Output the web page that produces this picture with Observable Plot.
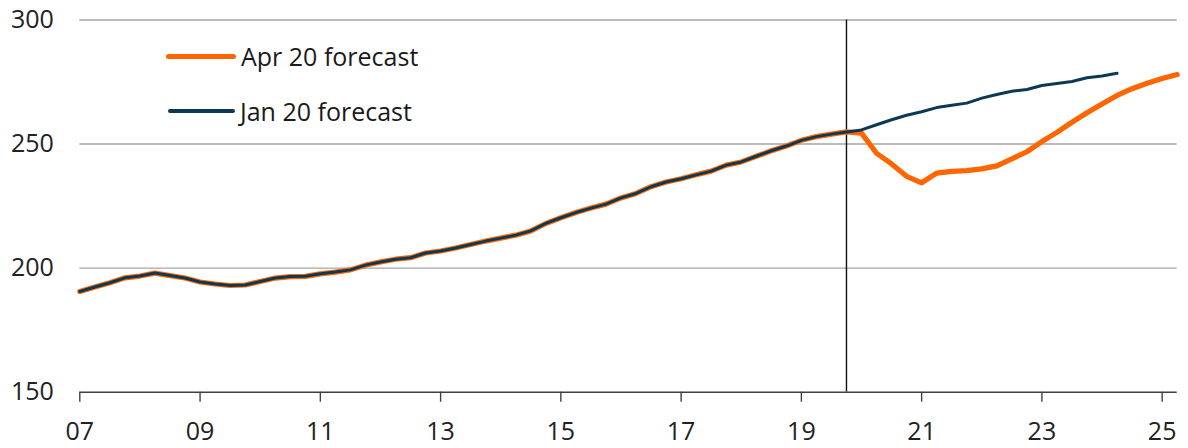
<!DOCTYPE html>
<html>
<head>
<meta charset="utf-8">
<script src="https://cdn.jsdelivr.net/npm/d3@7"></script>
<script src="https://cdn.jsdelivr.net/npm/@observablehq/plot@0.6"></script>
<style>
  html, body { margin: 0; padding: 0; background: #fff; }
  #wrap { position: relative; width: 1188px; height: 448px; font-family: "Open Sans", sans-serif; }
  .leg { position: absolute; display: flex; align-items: center; height: 25px; font-size: 25px; color: #1a1a1a; line-height: 25px; white-space: nowrap; }
  .leg .sw { display: inline-block; border-radius: 3px; margin-right: 5px; }
</style>
</head>
<body>
<div id="wrap"></div>
<script>
// Quarterly index, 2007Q1 – 2019Q4 (shared history)
const startYear = 2007;
const history = [
  190.6, 192.4, 194.1, 196.1,
  196.8, 198.0, 197.0, 196.0,
  194.4, 193.6, 193.0, 193.2,
  194.6, 196.0, 196.6, 196.7,
  197.7, 198.4, 199.3, 201.2,
  202.5, 203.6, 204.2, 206.1,
  206.9, 208.1, 209.5, 210.9,
  212.1, 213.3, 215.0, 218.0,
  220.3, 222.4, 224.2, 225.8,
  228.3, 230.1, 232.8, 234.7,
  236.0, 237.6, 239.1, 241.5,
  242.8, 245.1, 247.3, 249.2,
  251.5, 253.0, 254.0, 254.9
];
// Apr 20 forecast, 2020Q1 – 2025Q2
const aprForecast = [
  254.4, 246.3, 242.0, 237.0,
  234.4, 238.3, 239.0, 239.3,
  240.0, 241.2, 244.0, 246.9,
  251.0, 254.7, 258.8, 262.6,
  266.1, 269.6, 272.3, 274.5,
  276.4, 278.0
];
// Jan 20 forecast, 2020Q1 – 2024Q2
const janForecast = [
  255.7, 257.8, 259.8, 261.6,
  263.0, 264.7, 265.6, 266.5,
  268.5, 270.0, 271.3, 272.0,
  273.6, 274.4, 275.2, 276.7,
  277.4, 278.5
];
const seriesNames = ["Apr 20 forecast", "Jan 20 forecast"];
const seriesColors = ["#ff6600", "#0b3954"];
const xTicks = [2007, 2009, 2011, 2013, 2015, 2017, 2019, 2021, 2023, 2025];
const xTickLabels = ["07", "09", "11", "13", "15", "17", "19", "21", "23", "25"];
const yTicks = [150, 200, 250, 300];
const gridValues = [200, 250, 300];
const cutoff = 2019.75; // last actual quarter (2019Q4)

const toRows = (vals, name) => vals.map((v, i) => ({t: startYear + i / 4, v, name}));
const aprRows = toRows(history.concat(aprForecast), seriesNames[0]);
const janRows = toRows(history.concat(janForecast), seriesNames[1]);
const labelOf = new Map(xTicks.map((d, i) => [d, xTickLabels[i]]));

const chart = Plot.plot({
  width: 1188,
  height: 448,
  marginLeft: 79.3,
  marginRight: 11.3,
  marginTop: 19.5,
  marginBottom: 56.3,
  style: {fontFamily: "'Open Sans', sans-serif", fontSize: "25px", color: "#222", background: "#fff"},
  x: {domain: [2007, 2025.25]},
  y: {domain: [150, 300]},
  marks: [
    Plot.ruleY(gridValues, {stroke: "#a6a6a6", strokeWidth: 1.4}),
    Plot.ruleX([cutoff], {stroke: "#111", strokeWidth: 1.4}),
    Plot.line(aprRows, {x: "t", y: "v", stroke: seriesColors[0], strokeWidth: 5.2, strokeLinejoin: "round", strokeLinecap: "round"}),
    Plot.line(janRows, {x: "t", y: "v", stroke: seriesColors[1], strokeWidth: 3, strokeLinejoin: "round", strokeLinecap: "round"}),
    Plot.ruleY([150], {stroke: "#404040", strokeWidth: 1.4}),
    Plot.axisX({ticks: xTicks, tickFormat: d => labelOf.get(d), tickSize: 10, tickPadding: 20, stroke: "#404040", strokeWidth: 1.4, label: null, fill: "#222"}),
    Plot.axisY({ticks: yTicks, tickSize: 0, tickPadding: 26, label: null, fill: "#222"})
  ]
});

const wrap = document.getElementById("wrap");
wrap.appendChild(chart);

// Legend (overlay)
const legendPos = [{left: 166, top: 43.5, sw: 70, h: 5}, {left: 168, top: 98.5, sw: 67, h: 4}];
seriesNames.forEach((name, i) => {
  const p = legendPos[i];
  const d = document.createElement("div");
  d.className = "leg";
  d.style.left = p.left + "px";
  d.style.top = p.top + "px";
  const sw = document.createElement("span");
  sw.className = "sw";
  sw.style.width = p.sw + "px";
  sw.style.height = p.h + "px";
  sw.style.background = seriesColors[i];
  const tx = document.createElement("span");
  tx.textContent = name;
  d.appendChild(sw);
  d.appendChild(tx);
  wrap.appendChild(d);
});
</script>
</body>
</html>
